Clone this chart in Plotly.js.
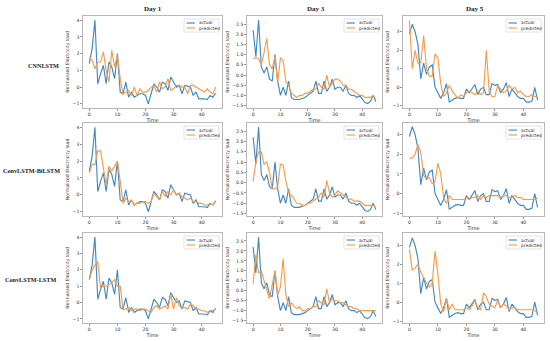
<!DOCTYPE html>
<html><head><meta charset="utf-8">
<script src="https://cdn.plot.ly/plotly-3.0.1.min.js"></script>
<style>html,body{margin:0;padding:0;background:#fff}#chart{width:550px;height:341px}</style>
</head><body><div id="chart"></div>
<script>
const time = [0,1,2,3,4,5,6,7,8,9,10,11,12,13,14,15,16,17,18,19,20,21,22,23,24,25,26,27,28,29,30,31,32,33,34,35,36,37,38,39,40,41,42,43,44,45];

const day1Actual = [1.4,2.3,4.0,0.2,0.8,1.3,0.2,1.5,1.2,0.5, 2.0,-0.3,-0.4,0.3,-0.6,-0.3,-0.6,-0.5,-0.4,-0.4, -0.5,-1.0,-0.4,0.2,0.0,-0.3,0.3,0.2,-0.2,0.6, 0.3,0.0,0.1,-0.4,0.1,0.05,0.0,-0.5,-0.3,-0.7, -0.7,-0.7,-0.75,-0.5,-0.6,-0.35];
const day3Actual = [2.2,0.9,2.7,0.4,0.1,0.4,-0.2,-0.3,1.0,-0.3, -1.0,-0.6,-1.0,-0.3,-1.1,-1.2,-1.2,-1.2,-1.15,-1.1, -1.0,-0.9,-0.8,-0.3,-0.9,-0.9,-0.3,-0.8,-0.6,-0.2, -0.7,-0.6,-0.6,-0.8,-0.5,-0.9,-1.0,-1.0,-1.1,-1.0, -1.2,-1.35,-1.4,-1.3,-1.0,-1.3];
const day5Actual = [2.9,3.4,3.0,2.3,0.45,1.3,0.7,1.1,1.2,0.0, -0.3,-0.6,-0.3,0.2,-0.8,-0.7,-0.6,-0.55,-0.6,-0.6, -0.1,-0.3,-0.1,0.15,-0.4,-0.1,0.0,-0.4,-0.4,0.2, 0.1,0.15,-0.3,-0.1,0.25,-0.5,-0.1,-0.3,-0.5,-0.6, -0.6,-0.8,-0.8,-0.75,0.0,-0.7];

const day1CnnLstm = [1.8,1.6,1.1,1.5,1.5,2.1,1.0,0.3,2.2,1.2, 1.9,0.5,-0.4,-0.3,-0.2,-0.5,0.0,-0.5,-0.1,-0.3, -0.3,-0.2,0.0,0.1,-0.3,0.3,-0.1,0.0,0.5,-0.2, -0.1,0.1,0.1,0.0,0.0,-0.4,0.1,0.1,0.0,-0.1, -0.2,-0.3,-0.1,-0.3,-0.4,0.0];
const day3CnnLstm = [0.8,0.85,0.8,0.5,1.1,1.8,0.5,0.3,0.9,-0.4, 0.85,0.7,-0.3,-0.5,-0.9,-1.0,-1.1,-1.0,-1.0,-0.9, -0.9,-0.8,-0.7,-0.7,-0.4,-0.6,-0.7,0.0,-0.6,-0.4, -0.2,-0.2,-0.3,-0.5,-0.5,-0.7,-0.7,-0.8,-0.9,-1.0, -1.0,-1.1,-1.1,-1.1,-1.0,-1.2];
const day5CnnLstm = [3.6,1.0,2.0,1.3,1.3,2.8,1.0,0.6,0.6,1.8, 1.6,0.2,-0.5,-0.3,0.1,-0.2,-0.4,-0.6,-0.4,-0.5, -0.3,-0.2,-0.3,-0.4,-0.2,-0.4,-0.3,2.0,-0.2,-0.5, -0.5,0.1,-0.1,-0.3,-0.2,0.1,-0.1,0.0,-0.3,-0.2, -0.4,-0.5,-0.5,-0.4,-0.5,-0.5];

const day1BiLstm = [1.3,1.8,1.8,2.6,2.6,1.5,0.6,1.7,1.4,1.7, 2.0,0.8,-0.5,-0.2,-0.4,-0.3,-0.6,-0.5,-0.5,-0.4, -0.4,-0.5,-0.4,0.1,-0.1,-0.3,0.2,-0.1,0.2,0.0, 0.3,0.0,0.1,-0.1,-0.2,-0.3,-0.2,-0.4,-0.4,-0.5, -0.5,-0.6,-0.6,-0.5,-0.6,-0.4];
const day3BiLstm = [0.05,1.0,1.5,1.5,0.9,1.0,0.5,-0.3,-0.3,-0.2, 0.9,0.85,0.1,-0.5,-0.6,-0.8,-1.0,-1.0,-1.1,-1.1, -1.0,-1.0,-0.9,-0.8,-0.7,-0.5,-0.7,0.1,-0.5,-0.7, -0.6,-0.4,-0.5,-0.6,-0.7,-0.8,-0.8,-0.9,-0.9,-0.9, -1.0,-1.1,-1.1,-1.1,-1.1,-1.2];
const day5BiLstm = [1.8,1.8,2.0,2.5,2.1,0.9,0.8,0.8,0.5,0.6, 1.55,1.0,-0.2,-0.5,-0.1,-0.3,-0.3,-0.3,-0.3,-0.3, -0.2,-0.3,-0.2,-0.2,-0.1,-0.3,-0.1,-0.2,-0.1,-0.1, -0.1,-0.1,-0.2,-0.1,-0.1,-0.2,-0.2,-0.1,-0.2,-0.2, -0.3,-0.3,-0.3,-0.3,-0.3,-0.2];

const day1Lstm = [1.4,2.0,2.3,2.5,0.9,1.0,1.0,1.1,1.2,1.4, 1.0,1.0,-0.4,-0.4,-0.3,-0.5,-0.4,-0.4,-0.5,-0.4, -0.4,-0.5,-0.6,-0.3,-0.2,-0.4,-0.3,-0.2,-0.4,0.5, -0.4,0.3,-0.2,-0.3,-0.3,-0.4,-0.1,-0.2,-0.4,-0.4, -0.5,-0.5,-0.6,-0.5,-0.5,-0.4];
const day3Lstm = [0.35,1.8,0.9,1.0,0.5,0.0,-0.4,0.3,1.0,-0.2, 0.2,1.6,-0.2,-0.8,-0.6,-0.8,-0.9,-0.8,-1.0,-1.0, -0.9,-0.9,-0.8,-0.8,-0.5,-0.6,-0.7,0.1,-0.6,-0.4, -0.5,-0.5,-0.6,-0.6,-0.7,-0.8,-0.8,-0.9,-0.9,-1.0, -1.0,-1.0,-1.0,-1.0,-1.0,-1.0];
const day5Lstm = [2.8,1.7,1.8,2.0,1.6,1.3,1.0,0.8,1.0,2.7, 1.5,-0.1,-0.5,0.2,-0.4,-0.1,-0.4,-0.4,-0.4,-0.4, -0.3,-0.4,-0.2,0.1,-0.3,-0.4,0.5,0.3,-0.1,-0.2, -0.3,0.1,-0.3,-0.1,-0.2,-0.4,-0.3,-0.3,-0.4,-0.4, -0.4,-0.4,-0.4,-0.4,-0.45,-0.5];

const models = ["CNNLSTM", "ConvLSTM-BiLSTM", "ConvLSTM-LSTM"];
const days = ["Day 1", "Day 3", "Day 5"];
const seriesNames = ["actual", "predicted"];
const xTickVals = [0, 10, 20, 30, 40];
const yTickVals = [[-1,0,1,2,3,4], [-1.5,-1.0,-0.5,0.0,0.5,1.0,1.5,2.0,2.5], [-1,0,1,2,3]];
const xLabel = "Time";
const yLabel = "Normalized Electricity load";

const actualByDay = [day1Actual, day3Actual, day5Actual];
const predictedByModel = [
  [day1CnnLstm, day3CnnLstm, day5CnnLstm],
  [day1BiLstm, day3BiLstm, day5BiLstm],
  [day1Lstm, day3Lstm, day5Lstm]
];

// layout (pixels)
const W = 550, H = 341;
const colPx = [[83,222],[247,382],[403,544]];
const rowPx = [[16,108],[123,216],[233,323]];
const yRanges = [
  [[-1.25,4.25],[-1.62,2.9],[-1.12,3.85]],
  [[-1.25,4.25],[-1.62,2.9],[-1.14,3.59]],
  [[-1.25,4.25],[-1.62,2.9],[-1.1,3.66]]
];
const BLUE = '#4189c2', ORANGE = '#f59c4a';
const tickFont = {family:'DejaVu Sans, sans-serif', size:4.6, color:'#333'};
const serifBold = 'Liberation Serif, DejaVu Serif, serif';

const traces = [];
const layout = {
  width: W, height: H, margin:{l:0,r:0,t:0,b:0},
  paper_bgcolor:'#fff', plot_bgcolor:'#fff', showlegend:false,
  shapes: [], annotations: []
};
const px2x = p => p / W, px2y = p => 1 - p / H;

for (let r = 0; r < 3; r++) {
  for (let c = 0; c < 3; c++) {
    const k = r*3 + c + 1;
    const xa = k === 1 ? 'x' : 'x' + k, ya = k === 1 ? 'y' : 'y' + k;
    const colors = [BLUE, ORANGE];
    const ys = [actualByDay[c], predictedByModel[r][c]];
    ys.forEach((y, i) => traces.push({
      type:'scatter', mode:'lines', x: time, y: y, name: seriesNames[i],
      xaxis: xa, yaxis: ya, line:{color: colors[i], width:1.15}, hoverinfo:'skip'
    }));
    const common = {showline:true, mirror:true, linecolor:'#9a9a9a', linewidth:0.7,
      showgrid:false, zeroline:false, ticks:'outside', ticklen:2, tickwidth:0.6, tickcolor:'#555',
      tickfont: tickFont};
    layout['xaxis' + (k===1?'':k)] = Object.assign({}, common, {
      domain:[px2x(colPx[c][0]), px2x(colPx[c][1])], anchor: ya,
      range:[-2.25, 47.25], tickvals: xTickVals,
      title:{text: xLabel, font:{family:'DejaVu Sans, sans-serif', size:5, color:'#333'}, standoff:1}
    });
    layout['yaxis' + (k===1?'':k)] = Object.assign({}, common, {
      domain:[px2y(rowPx[r][1]), px2y(rowPx[r][0])], anchor: xa,
      range: yRanges[r][c], tickvals: yTickVals[c], tickformat: c===1 ? '.1f' : 'd',
      title:{text: yLabel, font:{family:'DejaVu Sans, sans-serif', size:4.6, color:'#333'}, standoff:2}
    });
    // legend box (top right of each panel)
    const bx1 = colPx[c][1] - 3, bx0 = bx1 - 35, by0 = rowPx[r][0] + 3, by1 = by0 + 13;
    layout.shapes.push({type:'rect', xref:'paper', yref:'paper', x0:px2x(bx0), x1:px2x(bx1),
      y0:px2y(by1), y1:px2y(by0), line:{color:'#d0d0d0', width:0.6}, fillcolor:'rgba(255,255,255,0.85)'});
    seriesNames.forEach((nm, i) => {
      const ly = by0 + 4 + i*5;
      layout.shapes.push({type:'line', xref:'paper', yref:'paper', x0:px2x(bx0+2.5), x1:px2x(bx0+11),
        y0:px2y(ly), y1:px2y(ly), line:{color: colors[i], width:1.15}});
      layout.annotations.push({xref:'paper', yref:'paper', x:px2x(bx0+13), y:px2y(ly), text: nm,
        showarrow:false, xanchor:'left', yanchor:'middle', font:{family:'DejaVu Sans, sans-serif', size:4.4, color:'#333'}});
    });
  }
}
// column titles
const dayCenters = [153, 316, 475];
days.forEach((d, c) => layout.annotations.push({xref:'paper', yref:'paper', x:px2x(dayCenters[c]), y:px2y(9),
  text:'<b>' + d + '</b>', showarrow:false, xanchor:'center', yanchor:'middle', font:{family:serifBold, size:7, color:'#222'}}));
// row labels
const modelPos = [[43,65],[31,170],[30,279]];
models.forEach((m, r) => layout.annotations.push({xref:'paper', yref:'paper', x:px2x(modelPos[r][0]), y:px2y(modelPos[r][1]),
  text:'<b>' + m + '</b>', showarrow:false, xanchor:'center', yanchor:'middle', font:{family:serifBold, size:6.2, color:'#222'}}));

Plotly.newPlot('chart', traces, layout, {displayModeBar:false, staticPlot:true});
</script></body></html>
